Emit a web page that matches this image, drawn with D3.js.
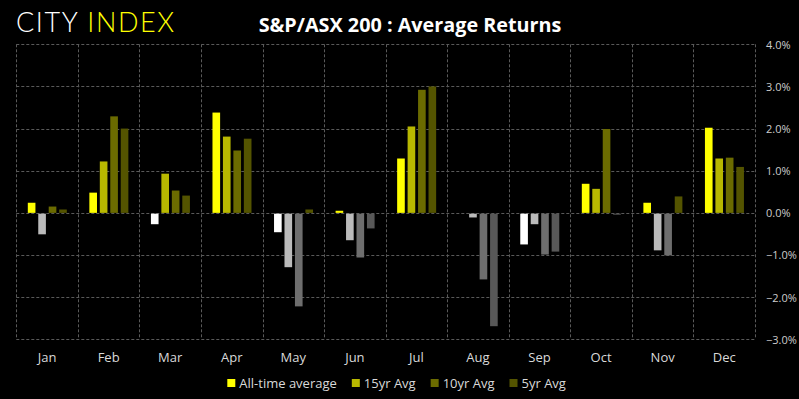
<!DOCTYPE html>
<html><head><meta charset="utf-8">
<script src="https://cdn.jsdelivr.net/npm/d3@7"></script>
<style>
html,body{margin:0;padding:0;background:#000;}
svg{display:block;}
</style></head>
<body>
<svg id="chart" width="799" height="399"></svg>
<script>
const months = ["Jan","Feb","Mar","Apr","May","Jun","Jul","Aug","Sep","Oct","Nov","Dec"];
const seriesNames = ["All-time average","15yr Avg","10yr Avg","5yr Avg"];
const allTime = [0.24, 0.48, -0.25, 2.38, -0.44, 0.05, 1.29, 0.00, -0.73, 0.69, 0.24, 2.02];
const avg15 = [-0.49, 1.22, 0.93, 1.81, -1.27, -0.63, 2.05, -0.09, -0.25, 0.57, -0.87, 1.29];
const avg10 = [0.15, 2.29, 0.53, 1.48, -2.20, -1.04, 2.92, -1.56, -0.97, 1.99, -0.99, 1.31];
const avg5 = [0.08, 2.00, 0.41, 1.76, 0.08, -0.35, 3.00, -2.67, -0.90, -0.02, 0.39, 1.09];
const yTicks = [4, 3, 2, 1, 0, -1, -2, -3];
const title = "S&P/ASX 200 : Average Returns";

const seriesValues = [allTime, avg15, avg10, avg5];
const posColors = ["#FFFF00", "#B8B800", "#6B6B00", "#545400"];
const negColors = ["#FFFFFF", "#BBBBBB", "#6E6E6E", "#585858"];

const svg = d3.select("#chart");
const W = 799, H = 399;
const m = {left: 16.3, right: 755, top: 44.3, bottom: 339.3};

svg.append("rect").attr("width", W).attr("height", H).attr("fill", "#000");

const x = d3.scaleBand().domain(months).range([m.left, m.right]).padding(0);
const x1 = d3.scaleBand().domain(d3.range(4)).range([11.5, 50.5]).paddingInner(0.27).paddingOuter(0);
const y = d3.scaleLinear().domain([-3, 4]).range([m.bottom, m.top]);

const grid = svg.append("g").attr("stroke", "#5a5a5a").attr("stroke-width", 1).attr("stroke-dasharray", "3,2").attr("fill", "none");
yTicks.forEach(t => {
  grid.append("line").attr("x1", m.left).attr("x2", m.right).attr("y1", Math.round(y(t)) + 0.5).attr("y2", Math.round(y(t)) + 0.5);
});
const vlines = months.map(mm => x(mm)).concat([m.right]);
vlines.forEach(v => {
  grid.append("line").attr("x1", Math.round(v) + 0.5).attr("x2", Math.round(v) + 0.5).attr("y1", m.top).attr("y2", m.bottom);
});

// Bars
const barsG = svg.append("g");
months.forEach((mm, i) => {
  seriesValues.forEach((vals, s) => {
    const v = vals[i];
    if (v === 0) return;
    const y0 = y(0), yv = y(v);
    barsG.append("rect")
      .attr("x", x(mm) + x1(s))
      .attr("width", x1.bandwidth())
      .attr("y", v > 0 ? yv : y0 + 0.8)
      .attr("height", Math.max(1, Math.abs(yv - y0)))
      .attr("fill", v > 0 ? posColors[s] : negColors[s]);
  });
});

// Y axis labels (right)
const yAxis = d3.axisRight(y).tickValues(yTicks).tickSize(0).tickPadding(0)
  .tickFormat(d => d3.format(".1f")(d) + "%");
const ya = svg.append("g").attr("transform", `translate(766,0)`).call(yAxis);
ya.select(".domain").remove();
ya.selectAll("text").attr("fill", "#cccccc").attr("font-family", "'Open Sans', sans-serif").attr("font-size", "11px").attr("dy", "0.35em");

// X axis labels
const xAxis = d3.axisBottom(x).tickSize(0).tickPadding(0);
const xa = svg.append("g").attr("transform", `translate(0,353)`).call(xAxis);
xa.select(".domain").remove();
xa.selectAll("text").attr("fill", "#d9d9d9").attr("font-family", "'Open Sans', sans-serif").attr("font-size", "13px").attr("dy", "0.71em");

// Title
svg.append("text").attr("x", 410).attr("y", 32.3).attr("text-anchor", "middle")
  .attr("fill", "#fff").attr("font-family", "'Open Sans', sans-serif").attr("font-weight", "bold").attr("font-size", "19.8px")
  .text(title);

// Logo
const logo = svg.append("text").attr("x", 16).attr("y", 32.3)
  .attr("font-family", "'Lato', 'Open Sans', sans-serif").attr("font-weight", 300).attr("font-size", "27px").attr("letter-spacing", "1.6px");
logo.append("tspan").attr("fill", "#fff").text("CITY ");
logo.append("tspan").attr("fill", "#FFFF00").text("INDEX");

// Legend
const legend = svg.append("g");
let lx = 227.3;
seriesNames.forEach((name, s) => {
  legend.append("rect").attr("x", lx).attr("y", 379).attr("width", 8).attr("height", 8).attr("fill", posColors[s]);
  const t = legend.append("text").attr("x", lx + 12).attr("y", 383).attr("dy", "0.35em")
    .attr("fill", "#d9d9d9").attr("font-family", "'Open Sans', sans-serif").attr("font-size", "13px").text(name);
  lx += 12 + t.node().getComputedTextLength() + 15;
});
</script>
</body></html>
